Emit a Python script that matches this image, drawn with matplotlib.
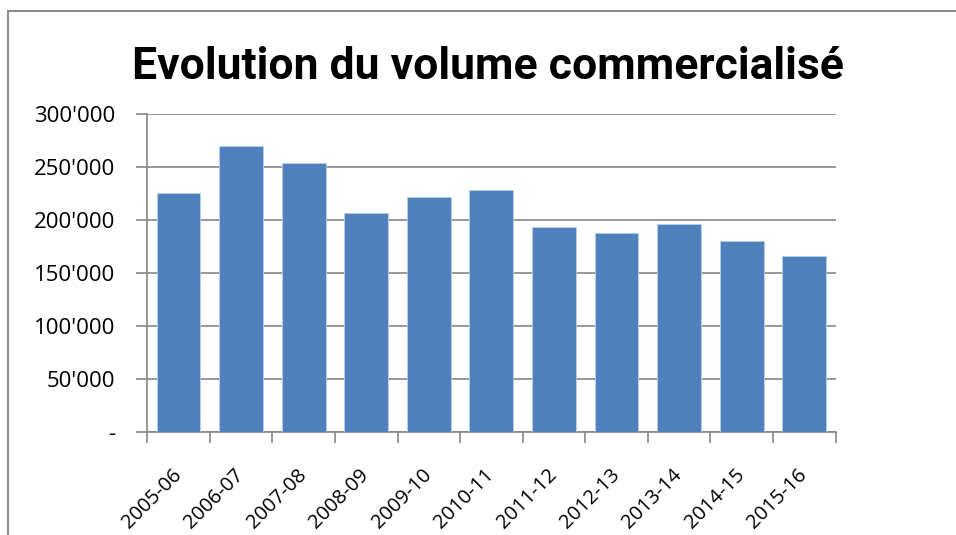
import matplotlib.pyplot as plt
from matplotlib.patches import Rectangle
from matplotlib.ticker import FuncFormatter

# data
seasons = ['2005-06', '2006-07', '2007-08', '2008-09', '2009-10', '2010-11',
           '2011-12', '2012-13', '2013-14', '2014-15', '2015-16']
volume = [226000, 269600, 253500, 207000, 221500, 228000,
          193700, 188300, 196800, 180400, 166400]
y_ticks = [0, 50000, 100000, 150000, 200000, 250000, 300000]

plt.rcParams['font.family'] = ['Open Sans', 'DejaVu Sans']

fig = plt.figure(figsize=(9.56, 5.35), dpi=100)
ax = fig.add_axes([0.154, 0.1925, 0.72, 0.594])

# outer chart border (Excel chart area)
fig.patches.append(Rectangle((8 / 956, -0.1), 1.2, 1 - 10.5 / 535 + 0.1,
                             transform=fig.transFigure, fill=False,
                             edgecolor='#8c8c8c', linewidth=1.5))

x = list(range(len(seasons)))
ax.bar(x, volume, width=0.7, color='#4f81bd', edgecolor='#b9cde5',
       linewidth=0.6, zorder=3)

ax.set_xlim(-0.5, len(seasons) - 0.5)
ax.set_ylim(0, 300000)
ax.set_yticks(y_ticks)


def fmt(v, pos):
    if v == 0:
        return '-'
    return f"{int(v):,}".replace(',', "'")


ax.yaxis.set_major_formatter(FuncFormatter(fmt))
ax.yaxis.grid(True, color='#868686', linewidth=1.2, zorder=0)

# category ticks sit between the bars
ax.set_xticks([i - 0.5 for i in range(len(seasons) + 1)], minor=False)
ax.set_xticklabels([])
ax.set_xticks(x, minor=True)
ax.set_xticklabels(seasons, minor=True, rotation=45, ha='right', va='center',
                   rotation_mode='anchor', fontsize=14.5)
ax.tick_params(axis='x', which='minor', length=0, pad=29)
ax.tick_params(axis='x', which='major', length=8, color='#868686', width=1.2,
               direction='out')
ax.tick_params(axis='y', length=8, color='#868686', width=1.2, labelsize=16,
               pad=15)

for s in ['top', 'right']:
    ax.spines[s].set_visible(False)
for s in ['left', 'bottom']:
    ax.spines[s].set_color('#868686')
    ax.spines[s].set_linewidth(1.2)

fig.text(0.510, 1 - 79 / 535, 'Evolution du volume commercialisé', ha='center',
         va='baseline', fontsize=32, fontweight='bold',
         family=['Roboto', 'DejaVu Sans'])

fig.savefig('out.png', dpi=100)
